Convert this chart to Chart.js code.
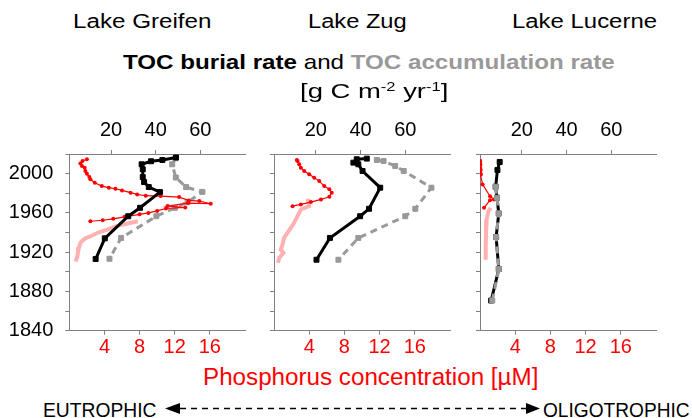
<!DOCTYPE html>
<html>
<head>
<meta charset="utf-8">
<script src="https://cdn.jsdelivr.net/npm/chart.js@4.4.1/dist/chart.umd.min.js"></script>
<style>
  body { margin: 0; background: #fff; font-family: "Liberation Sans", Arial, sans-serif; }
  #fig { position: relative; width: 692px; height: 418px; overflow: hidden; background: #fff; }
  .cv { position: absolute; }
  .txt { position: absolute; white-space: nowrap; line-height: 1; transform-origin: 0 0; color: #000; }
  .txt sup { font-size: 0.6em; vertical-align: 0.55em; line-height: 0; }
</style>
</head>
<body>
<div id="fig">
  <div class="cv" style="left:0;top:100px;width:260px;height:262px"><canvas id="greifen"></canvas></div>
  <div class="cv" style="left:254px;top:100px;width:211px;height:262px"><canvas id="zug"></canvas></div>
  <div class="cv" style="left:460px;top:100px;width:211px;height:262px"><canvas id="lucerne"></canvas></div>

  <div class="txt" id="t1" style="top:11px;font-size:20px">Lake Greifen</div>
  <div class="txt" id="t2" style="top:11px;font-size:20px">Lake Zug</div>
  <div class="txt" id="t3" style="top:11px;font-size:20px">Lake Lucerne</div>
  <div class="txt" id="t4" style="top:51px;font-size:21px"><b>TOC burial rate</b> and <b style="color:#999">TOC accumulation rate</b></div>
  <div class="txt" id="t5" style="top:80px;font-size:21px">[g C m<sup>-2</sup> yr<sup>-1</sup>]</div>
  <div class="txt" id="t6" style="top:365.5px;font-size:23px;color:#ff0000">Phosphorus concentration [µM]</div>
  <div class="txt" id="t7" style="top:399.5px;font-size:20px">EUTROPHIC</div>
  <div class="txt" id="t8" style="top:399.5px;font-size:20px">OLIGOTROPHIC</div>

  <svg style="position:absolute;left:0;top:0" width="692" height="418">
    <line x1="180" y1="408.5" x2="526" y2="408.5" stroke="#000" stroke-width="1.4" stroke-dasharray="6,5"/>
    <polygon points="165,408.5 180,403 180,414" fill="#000"/>
    <polygon points="540,408.5 526,403 526,414" fill="#000"/>
  </svg>
</div>

<script>
// year axis
const yearTicks = [1840, 1860, 1880, 1900, 1920, 1940, 1960, 1980, 2000, 2020];
const yearLabels = [1840, 1880, 1920, 1960, 2000];
const tocTicks = [20, 40, 60];
const pTicks = [4, 8, 12, 16];

// Lake Greifen
const greifenBurialYears = [2016.4, 2013.9, 2012.6, 2009.5, 2004.4, 1996.5, 1991.4, 1986.3, 1981.2, 1965.2, 1956.6, 1934.1, 1913];
const greifenBurial = [49.1, 43.0, 37.9, 33.7, 34.2, 34.2, 34.8, 36.9, 41.9, 33.0, 27.7, 17.2, 13.1];
const greifenAccumYears = [2015.6, 2009.5, 1996, 1986.3, 1981.4, 1971, 1965.2, 1956.6, 1934.5, 1913.3];
const greifenAccum = [48.9, 47.4, 49.0, 53.6, 60.9, 54.3, 48.6, 40.3, 24.5, 19.3];
const greifenPYears = [2014.6, 2012.9, 2010.2, 2007.8, 2006.1, 2002.7, 2000, 1996.5, 1994.2, 1990.8, 1987.3, 1985.7, 1984.6, 1982.9, 1980.6, 1978.8, 1977.5, 1977.1, 1976.1, 1972.7, 1972, 1969.3, 1970, 1967, 1965.5, 1964.5, 1962, 1960, 1958.5, 1956, 1954, 1952.5, 1951.5];
const greifenP = [2.0, 1.5, 1.26, 1.44, 1.75, 1.83, 2.0, 2.28, 2.4, 2.9, 3.7, 4.5, 5.25, 6.0, 6.97, 7.73, 8.7, 10.4, 12.5, 13.6, 14.8, 16.1, 13.5, 11.2, 13.2, 11.0, 10.0, 9.0, 8.0, 6.3, 5.0, 3.8, 2.4];
const greifenPOldYears = [1951.5, 1950, 1948, 1946, 1943, 1940, 1937, 1934, 1930, 1925, 1920, 1915, 1910.5];
const greifenPOld = [7.8, 7.0, 6.0, 5.2, 4.3, 3.3, 2.6, 1.8, 1.3, 1.1, 1.0, 0.9, 0.7];

// Lake Zug
const zugBurialYears = [2015.3, 2014.6, 2011.2, 2009.5, 2002.7, 1985.7, 1964.2, 1956.6, 1934.5, 1912.3];
const zugBurial = [42.8, 38.3, 36.8, 39.0, 40.9, 48.8, 43.8, 39.8, 26.3, 20.3];
const zugAccumYears = [2013.9, 2012.9, 2007.8, 2002.7, 1985.7, 1964.2, 1956.6, 1934.5, 1912.3];
const zugAccum = [47.3, 50.3, 55.5, 59.3, 71.7, 64.5, 60.0, 39.0, 30.1];
const zugPYears = [2014, 2012.9, 2009.5, 2006.1, 2002.7, 1999.3, 1995.9, 1992.4, 1987.3, 1984, 1980.6, 1976.5, 1973.7, 1971, 1968.6, 1966.9];
const zugP = [2.6, 2.67, 2.86, 3.05, 3.43, 4.0, 4.57, 5.14, 5.71, 6.29, 6.56, 6.29, 5.34, 4.19, 3.05, 2.1];
const zugPOldYears = [1974.4, 1966.9, 1963.5, 1956.6, 1949.9, 1944.8, 1939.6, 1934.5, 1927.7, 1922.6, 1919.2, 1914, 1909];
const zugPOld = [3.82, 4.0, 3.05, 2.67, 2.29, 1.91, 1.53, 1.14, 0.96, 0.77, 1.07, 0.57, 0.46];

// Lake Lucerne
const lucerneBurialYears = [2011.9, 2003.7, 1986.7, 1975.4, 1959.4, 1935.5, 1902.8, 1870.7];
const lucerneBurial = [10.1, 9.1, 8.3, 8.9, 9.7, 8.5, 9.7, 6.3];
const lucerneAccumYears = [1986.7, 1975.4, 1959.4, 1935.5, 1902.8, 1870.7];
const lucerneAccum = [8.3, 8.9, 9.7, 8.5, 9.7, 6.8];
const lucernePYears = [2013, 2011, 2009, 2006, 2004, 2001, 1999, 1989, 1977, 1973.7, 1973, 1965.2];
const lucerneP = [0.02, 0.02, 0.05, 0.02, 0.08, 0.05, 0.1, 0.3, 1.14, 1.6, 1.14, 0.46];
const lucernePOldYears = [1965.2, 1961.7, 1953.3, 1939.6, 1925.9, 1912.3];
const lucernePOld = [1.22, 0.95, 0.76, 0.69, 0.65, 0.65];

Chart.defaults.font.family = '"Liberation Sans", Arial, sans-serif';
Chart.defaults.font.size = 20;
Chart.defaults.color = '#000';

const pts = (xs, ys) => ys.map((y, i) => ({ x: xs[i], y: y }));
const AXIS_GREY = '#808080';

function makePanel(id, d, yWidth, showYLabels, accumOnTop) {
    const datasets = [
        { // TOC burial rate
            data: pts(d.burial, d.burialYears), xAxisID: 'toc', yAxisID: 'y', showLine: true,
            borderColor: '#000', backgroundColor: '#000', borderWidth: 3,
            pointStyle: 'rect', pointRadius: 3.5, pointBorderWidth: 1, order: 1
        },
        { // P concentration, measured
            data: pts(d.p, d.pYears), xAxisID: 'p', yAxisID: 'y', showLine: true,
            borderColor: '#ff0000', backgroundColor: '#ff0000', borderWidth: 1.2,
            pointRadius: 2, pointBorderWidth: 0, order: 2
        },
        { // TOC accumulation rate
            data: pts(d.accum, d.accumYears), xAxisID: 'toc', yAxisID: 'y', showLine: true,
            borderColor: '#999', backgroundColor: '#999', borderWidth: 3, borderDash: [7, 5],
            pointStyle: 'rect', pointRadius: 3.5, pointBorderWidth: 1, order: accumOnTop ? 0 : 3
        },
        { // P concentration, reconstructed
            data: pts(d.pOld, d.pOldYears), xAxisID: 'p', yAxisID: 'y', showLine: true,
            borderColor: '#ffb0b0', borderWidth: 4, pointRadius: 0, order: 4
        }
    ];

    return new Chart(document.getElementById(id), {
        type: 'scatter',
        data: { datasets },
        options: {
            responsive: true,
            maintainAspectRatio: false,
            animation: false,
            events: [],
            layout: { padding: { left: 0, right: 15, top: 0, bottom: 0 } },
            plugins: { legend: { display: false }, tooltip: { enabled: false } },
            elements: { line: { tension: 0 } },
            scales: {
                y: {
                    type: 'linear', position: 'left', min: 1840, max: 2020,
                    afterBuildTicks: s => { s.ticks = yearTicks.map(v => ({ value: v })); },
                    ticks: {
                        padding: 12, autoSkip: false,
                        callback: v => (showYLabels && yearLabels.includes(v)) ? String(v) : ''
                    },
                    grid: { drawOnChartArea: false, tickLength: 4, color: AXIS_GREY },
                    border: { color: AXIS_GREY },
                    afterFit: s => { s.width = yWidth; }
                },
                toc: {
                    type: 'linear', axis: 'x', position: 'top', min: 1.3, max: 80,
                    afterBuildTicks: s => { s.ticks = tocTicks.map(v => ({ value: v })); },
                    ticks: { padding: 8, maxRotation: 0, autoSkip: false },
                    grid: { drawOnChartArea: false, tickLength: 4, color: AXIS_GREY },
                    border: { color: AXIS_GREY },
                    afterFit: s => { s.height = 54; }
                },
                p: {
                    type: 'linear', axis: 'x', position: 'bottom', min: 0, max: 20,
                    afterBuildTicks: s => { s.ticks = pTicks.map(v => ({ value: v })); },
                    ticks: { padding: 1, color: '#ff0000', maxRotation: 0, autoSkip: false },
                    grid: { drawOnChartArea: false, tickLength: 4, color: AXIS_GREY },
                    border: { color: AXIS_GREY },
                    afterFit: s => { s.height = 31.3; }
                }
            }
        }
    });
}

makePanel('greifen', {
    burial: greifenBurial, burialYears: greifenBurialYears,
    accum: greifenAccum, accumYears: greifenAccumYears,
    p: greifenP, pYears: greifenPYears,
    pOld: greifenPOld, pOldYears: greifenPOldYears
}, 69.3, true, false);

makePanel('zug', {
    burial: zugBurial, burialYears: zugBurialYears,
    accum: zugAccum, accumYears: zugAccumYears,
    p: zugP, pYears: zugPYears,
    pOld: zugPOld, pOldYears: zugPOldYears
}, 20, false, false);

makePanel('lucerne', {
    burial: lucerneBurial, burialYears: lucerneBurialYears,
    accum: lucerneAccum, accumYears: lucerneAccumYears,
    p: lucerneP, pYears: lucernePYears,
    pOld: lucernePOld, pOldYears: lucernePOldYears
}, 20, false, true);

// stretch the text blocks to the widths they take in the figure
function fitText(id, x0, x1) {
    const el = document.getElementById(id);
    const w = el.getBoundingClientRect().width;
    el.style.left = x0 + 'px';
    el.style.transform = 'scaleX(' + ((x1 - x0) / w) + ')';
}
fitText('t1', 73.3, 211.7);
fitText('t2', 308, 406.7);
fitText('t3', 511.7, 656.7);
fitText('t4', 123.3, 615);
fitText('t5', 300, 448.3);
fitText('t6', 203.3, 538.7);
fitText('t7', 43.3, 156.7);
fitText('t8', 542.7, 689.3);
</script>
</body>
</html>
